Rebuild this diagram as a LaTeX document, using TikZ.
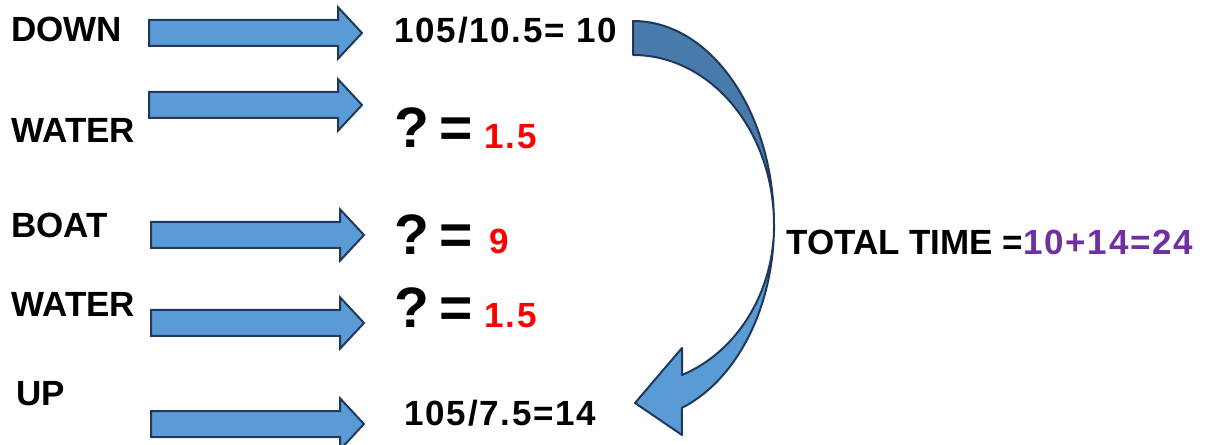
\documentclass[tikz,border=0pt]{standalone}
\usepackage{fontspec}
\setmainfont{Liberation Sans}
\usetikzlibrary{shapes.arrows}
\definecolor{arrblue}{RGB}{91,155,213}
\definecolor{arrdark}{RGB}{72,123,171}
\definecolor{arredge}{RGB}{31,56,92}
\definecolor{ansred}{RGB}{255,0,0}
\definecolor{anspurple}{RGB}{112,48,160}
\newcommand{\wide}{\addfontfeature{LetterSpace=5}}
\tikzstyle{barrow}=[single arrow, draw=arredge, fill=arrblue, line width=1pt, inner xsep=0, inner ysep=6pt, anchor=tail, minimum height=106.5pt, single arrow head extend=6.25pt, single arrow tip angle=94]
\tikzstyle{lbl}=[inner sep=0, anchor=base west, font=\fontsize{17.5}{20}\selectfont\bfseries]
\tikzstyle{num}=[lbl, font=\fontsize{17.5}{20}\selectfont\bfseries\wide]
\tikzstyle{qs}=[inner sep=0, anchor=base west, font=\fontsize{28.5}{32}\selectfont\bfseries]
\tikzstyle{ans}=[num, text=ansred]

\begin{document}
\begin{tikzpicture}[x=0.5pt, y=0.5pt]
\useasboundingbox (0,0) rectangle (1208,444);
% labels on the left
\draw (11,402) node[lbl](l1) {DOWN};
\draw (11,301) node[lbl](l2) {WATER};
\draw (11,206) node[lbl](l3) {BOAT};
\draw (11,127) node[lbl](l4) {WATER};
\draw (16,39) node[lbl](l5) {UP};
% block arrows
\draw (148,411) node[barrow](a1) {};
\draw (148,339) node[barrow](a2) {};
\draw (150,209) node[barrow](a3) {};
\draw (150,121) node[barrow](a4) {};
\draw (150,20) node[barrow](a5) {};
% results
\draw (394,401) node[num](r1) {105/10.5= 10};
\draw (394,296) node[qs](q2) {?\kern5pt=};
\draw (484,295) node[ans](v2) {1.5};
\draw (394,189) node[qs](q3) {?\kern5pt=};
\draw (489,190) node[ans](v3) {9};
\draw (394,116) node[qs](q4) {?\kern5pt=};
\draw (484,116) node[ans](v4) {1.5};
\draw (404,19) node[num](r5) {105/7.5=14};
\draw (786,189) node[lbl](tot) {TOTAL TIME =\textcolor{anspurple}{\wide 10+14=24}};
% curved arrow, back half then front half
\filldraw[fill=arrdark, draw=arredge, line width=1pt, line join=round]
  (633,423) arc[start angle=90, end angle=0, x radius=70.5pt, y radius=102pt]
  arc[start angle=0, end angle=90, x radius=70.5pt, y radius=85pt] -- cycle;
\filldraw[fill=arrblue, draw=arredge, line width=1pt, line join=round]
  (774,219) arc[start angle=0, end angle=-69.7, x radius=70.5pt, y radius=97.5pt]
  -- (682,9) -- (635,41) -- (682,96) -- (682,69)
  arc[start angle=-69.7, end angle=0, x radius=70.5pt, y radius=80pt] -- cycle;
\end{tikzpicture}
\end{document}
